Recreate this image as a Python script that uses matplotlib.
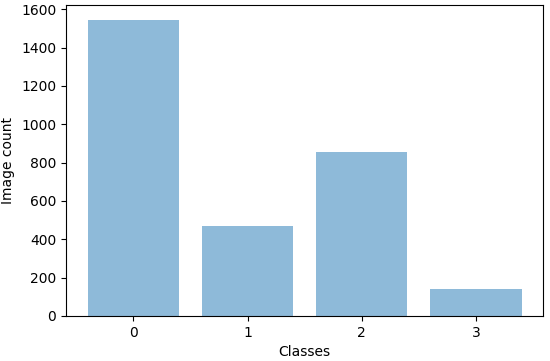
import matplotlib
matplotlib.use('Agg')
import matplotlib.pyplot as plt

# numero de imagens por classe
classes = [0, 1, 2, 3]
counts = [1543, 469, 856, 138]

fig, ax = plt.subplots(figsize=(5.5, 3.61), dpi=100)
ax.bar(classes, counts, color='#1f77b4', alpha=0.5)
ax.set_xticks(classes)
ax.set_xlabel('Classes')
ax.set_ylabel('Image count')
fig.subplots_adjust(left=0.12, right=0.988, top=0.985, bottom=0.125)
fig.savefig('out.png')
